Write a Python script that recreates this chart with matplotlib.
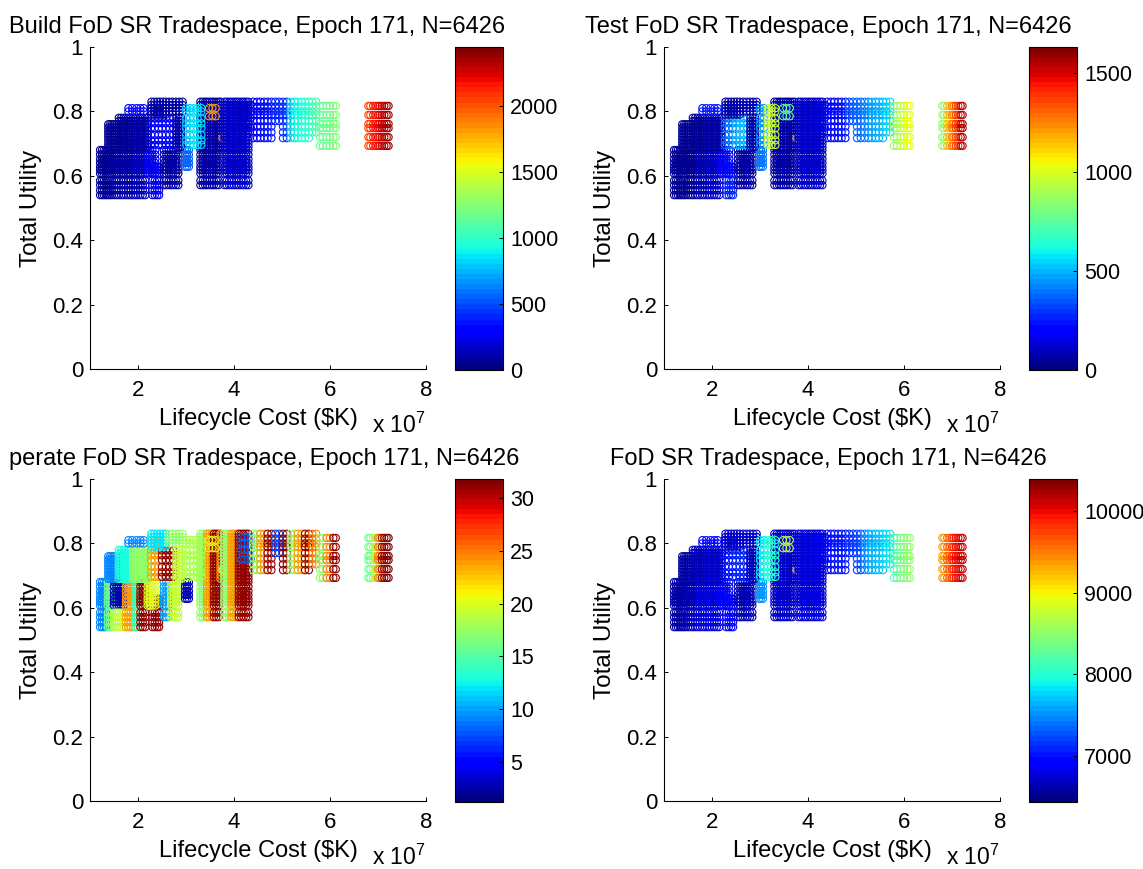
import numpy as np
import matplotlib
matplotlib.use('Agg')
import matplotlib.pyplot as plt
from matplotlib.colors import Normalize
from matplotlib.cm import ScalarMappable

plt.rcParams['font.family'] = ['Liberation Sans', 'DejaVu Sans']
plt.rcParams['mathtext.default'] = 'regular'

LOW_A = [0.54, 0.555, 0.571, 0.585]
LOW_B = [0.607, 0.618, 0.628, 0.64, 0.652, 0.666, 0.68]
LOW = LOW_A + LOW_B
MID = [0.69, 0.70, 0.71, 0.72, 0.73, 0.74, 0.75, 0.76, 0.77, 0.78]
RINGS = [0.696, 0.71, 0.727, 0.748, 0.763, 0.778, 0.80, 0.81]
TOP = [0.79, 0.80, 0.81, 0.82, 0.83]
TALL = [0.571, 0.585] + LOW_B + MID + TOP
PLAT = [0.717, 0.735, 0.753, 0.77, 0.789, 0.80, 0.815, 0.83]
EDGE = [0.693, 0.72, 0.748, 0.761, 0.789, 0.817]

# lifecycle cost (x 10^7) of each group of designs, in draw order
block_costs = [
    [1.21, 1.25, 1.29, 1.33], [1.37, 1.41, 1.45], [1.5, 1.55, 1.6, 1.65, 1.7], [1.5, 1.55, 1.6, 1.65, 1.7],
    [1.75, 1.8, 1.85, 1.9], [1.95, 2.0], [2.05, 2.1, 2.15], [2.3, 2.35, 2.4, 2.44], [2.2, 2.25, 2.3, 2.36],
    [2.54, 2.59, 2.64], [2.69, 2.74, 2.79, 2.84], [2.98, 3.02, 3.06],
    [1.38, 1.42, 1.46, 1.5, 1.55], [1.6, 1.65, 1.7, 1.75, 1.8, 1.85], [1.9, 1.95, 2.0, 2.05, 2.1, 2.15, 2.2],
    [1.8, 1.88, 1.97, 2.05, 2.12], [2.27, 2.35, 2.43], [2.5, 2.58, 2.66, 2.74],
    [2.28, 2.34, 2.4, 2.46, 2.52, 2.58], [2.65, 2.72, 2.79, 2.86, 2.93], [2.8, 2.85, 2.9],
    [3.3, 3.35, 3.4], [3.44, 3.49, 3.54], [3.58, 3.63, 3.68], [3.72],
    [3.0, 3.08], [3.16, 3.24, 3.32], [3.48, 3.55, 3.62], [3.76, 3.79],
    [3.8, 3.85, 3.9], [3.95, 4.0, 4.05], [4.1, 4.15, 4.2, 4.25, 4.3], [4.15, 4.22, 4.29, 4.35],
    [4.4, 4.48], [4.55, 4.63], [4.7, 4.78], [4.86, 4.94], [5.02, 5.1],
    [5.18, 5.26], [5.33, 5.41], [5.48, 5.56], [5.63, 5.71],
    [5.79, 5.85], [5.93, 6.0], [6.07, 6.12],
    [6.8, 6.84], [6.9, 6.95], [7.0, 7.03], [7.08, 7.13], [7.18, 7.22],
]
# total utility rows of each group
block_utils = [
    LOW, LOW, LOW_B, LOW_A, LOW,
    LOW, LOW, LOW_A + LOW_B[:3], LOW_B,
    LOW[2:], LOW[2:], LOW_B[2:],
    MID[:8], MID, MID,
    [0.80, 0.81], RINGS, RINGS[:6],
    TOP, TOP[1:], MID,
    TALL, TALL, TALL, MID + TOP,
    RINGS, RINGS, [0.785, 0.81], [0.717],
    TALL, TALL, TALL, [0.75, 0.78, 0.80, 0.82],
    PLAT, PLAT, PLAT, PLAT[3:], PLAT,
    PLAT, PLAT, PLAT, PLAT[1:],
    EDGE, EDGE, EDGE,
    EDGE, EDGE, EDGE, EDGE, EDGE,
]
build_vals = [
    70, 70, 90, 90, 100, 130, 140, 260, 250,
    90, 90, 550,
    60, 70, 90, 300, 300, 330, 100, 90, 90,
    100, 100, 100, 100,
    800, 850, 1800, 1850,
    170, 170, 170, 180,
    300, 320, 350, 400, 430,
    850, 950, 980, 1050,
    1150, 1180, 1250,
    2050, 2150, 2200, 2300, 2350,
]
test_vals = [
    40, 40, 50, 50, 90, 100, 110, 260, 220,
    60, 60, 400,
    40, 50, 70, 250, 400, 500, 60, 80, 60,
    70, 70, 70, 70,
    450, 950, 750, 1150,
    110, 110, 110, 130,
    200, 220, 250, 350, 370,
    420, 480, 500, 560,
    850, 950, 1030,
    850, 1150, 1250, 1400, 1550,
]
operate_vals = [
    9, 16, 3, 19, 24, 14, 31, 31, 20,
    10, 19, 3,
    9, 13, 17, 9, 24, 31, 12, 17, 19,
    17, 24, 31, 24,
    18, 18, 20, 20,
    17, 24, 31, 8,
    17, 24, 31, 7, 31,
    17, 24, 31, 25,
    17, 25, 31,
    16, 18, 25, 31, 32,
]
total_vals = [
    6600, 6600, 6650, 6650, 6750, 6800, 6800, 6950, 6900,
    6650, 6650, 7500,
    6600, 6650, 6700, 6950, 7000, 7100, 6700, 6700, 6650,
    6700, 6700, 6700, 6700,
    7800, 8000, 8700, 9100,
    6800, 6800, 6800, 6850,
    6950, 7000, 7050, 7150, 7200,
    7500, 7650, 7700, 7800,
    8200, 8400, 8500,
    9400, 9600, 9800, 10000, 10100,
]

titles = ['Build FoD SR Tradespace, Epoch 171, N=6426', 'Test FoD SR Tradespace, Epoch 171, N=6426',
          'perate FoD SR Tradespace, Epoch 171, N=6426', 'FoD SR Tradespace, Epoch 171, N=6426']
color_limits = [(0, 2447), (0, 1631), (1.2, 31.8), (6434, 10394)]
color_ticks = [[0, 500, 1000, 1500, 2000], [0, 500, 1000, 1500], [5, 10, 15, 20, 25, 30],
               [7000, 8000, 9000, 10000]]
panel_vals = [build_vals, test_vals, operate_vals, total_vals]

W, H = 1143, 869
jet = plt.get_cmap('jet', 64)


def rect(left, top, right, bottom):
    return [left / W, 1 - bottom / H, (right - left) / W, (bottom - top) / H]


def draw_panel(n, left, top, title_x):
    ax = fig.add_axes(rect(left, top, left + 336, top + 322))
    norm = Normalize(*color_limits[n])
    for costs, utils, val in zip(block_costs, block_utils, panel_vals[n]):
        cc, uu = np.meshgrid(costs, utils)
        ax.scatter(cc.ravel(), uu.ravel(), s=27, facecolors='none', edgecolors=[jet(norm(val))],
                   linewidths=0.8, clip_on=False)
    ax.set_xlim(1, 8)
    ax.set_ylim(0, 1)
    ax.set_xticks([2, 4, 6, 8])
    ax.set_yticks([0, 0.2, 0.4, 0.6, 0.8, 1])
    ax.set_yticklabels(['0', '0.2', '0.4', '0.6', '0.8', '1'])
    ax.spines['top'].set_visible(False)
    ax.spines['right'].set_visible(False)
    ax.tick_params(direction='in', length=3, width=0.7, labelsize=16)
    ax.tick_params(axis='x', pad=8)
    ax.tick_params(axis='y', pad=5)
    ax.set_xlabel('Lifecycle Cost ($K)', fontsize=17, labelpad=5)
    ax.set_ylabel('Total Utility', fontsize=17.5, labelpad=7)
    ax.text(1.0, -0.197, 'x 10$^{7}$', transform=ax.transAxes, fontsize=16.5, ha='right', va='baseline')
    fig.text(title_x / W, 1 - (top - 20) / H, titles[n], fontsize=17, ha='center', va='center')

    cax = fig.add_axes(rect(left + 365, top, left + 413, top + 323))
    cb = fig.colorbar(ScalarMappable(norm=norm, cmap=jet), cax=cax, ticks=color_ticks[n])
    cb.ax.tick_params(direction='in', length=3, width=0.7, labelsize=15.5, pad=5)
    cb.outline.set_linewidth(0.8)


fig = plt.figure(figsize=(W / 100, H / 100), dpi=100)
draw_panel(0, 90, 47, 257)
draw_panel(1, 664, 47, 828)
draw_panel(2, 90, 479, 264)
draw_panel(3, 664, 479, 828)
fig.savefig('out.png', dpi=100)
